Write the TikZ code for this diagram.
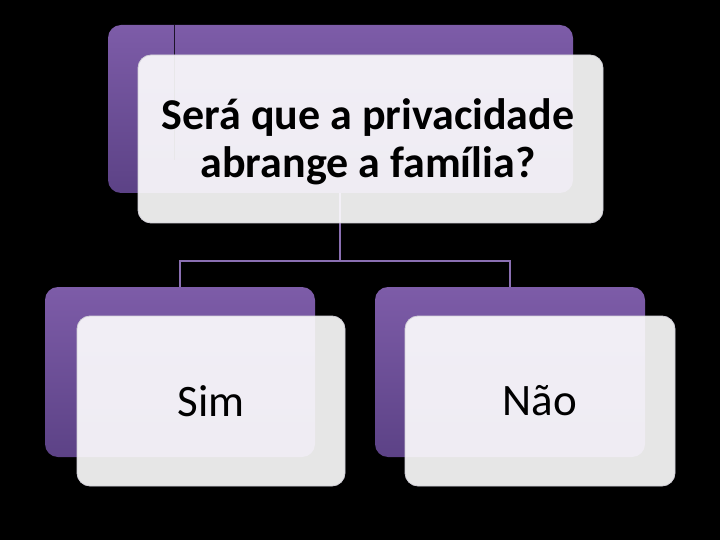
\documentclass[tikz,border=0pt]{standalone}
\usepackage{fontspec}
\setmainfont{Carlito}
\begin{document}
\begin{tikzpicture}[x=1pt,y=-1pt,
  backbox/.style={rounded corners=13pt, top color=purpTop, bottom color=purpBot, draw=none},
  frontbox/.style={rounded corners=13pt, fill=white, fill opacity=0.9, draw=frontEdge, line width=0.8pt},
  conn/.style={draw=connCol, line width=2pt},
  label/.style={text=black, font=\fontsize{45}{48}\selectfont, align=center}
]
\definecolor{purpTop}{HTML}{7D5CA8}
\definecolor{purpBot}{HTML}{5C4286}
\definecolor{frontEdge}{HTML}{D2D0D8}
\definecolor{connCol}{HTML}{8A6FB2}
\useasboundingbox (0,0) rectangle (720,540);
\fill[black] (0,0) rectangle (720,540);
% back boxes
\path[backbox] (108,25) rectangle (573,193);
\path[backbox] (45,287) rectangle (315,457);
\path[backbox] (375,287) rectangle (645,457);
\coordinate (tb) at (340,193);
\coordinate (lb) at (180,287);
\coordinate (rb) at (510,287);
\coordinate (j1) at (340,261);
\coordinate (artA) at (174,25);
\coordinate (artB) at (174,160);
% connectors
\draw[conn] (tb) -- (j1);
\draw[conn] (lb) |- (j1) -| (rb);
\draw[draw=black!70!purpBot, line width=0.8pt] (artA) -- (artB);
% front boxes
\path[frontbox] (138,55) rectangle (603,223);
\path[frontbox] (77,316) rectangle (345,486);
\path[frontbox] (405,316) rectangle (675,486);
% text
\node[label, font=\fontsize{44}{48}\selectfont\bfseries] (t) at (368,142) {Será que a privacidade\\abrange a família?};
\node[label] (s) at (211,401) {Sim};
\node[label] (n) at (540,401) {Não};
\end{tikzpicture}
\end{document}
